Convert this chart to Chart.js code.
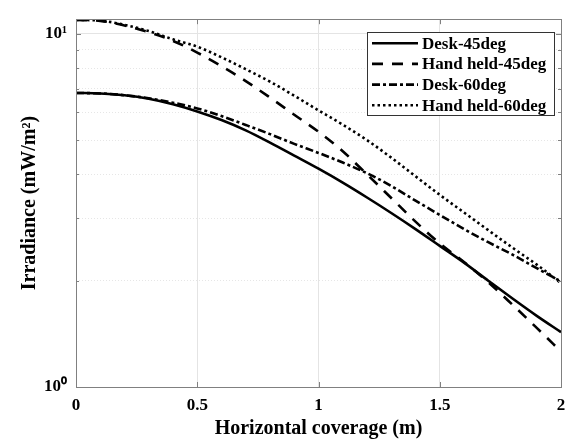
<!DOCTYPE html>
<html>
<head>
<meta charset="utf-8">
<script src="https://cdn.jsdelivr.net/npm/chart.js@4/dist/chart.umd.min.js"></script>
<style>
    html, body { margin: 0; padding: 0; background: #fff; }
    #wrap { width: 576px; height: 441px; }
</style>
</head>
<body>
<div id="wrap"><canvas id="chartOfIrradiance" width="576" height="441"></canvas></div>
<script>
// Horizontal coverage (m)
const coverage = [0, 0.1, 0.2, 0.3, 0.4, 0.5, 0.6, 0.7, 0.8, 0.9, 1.0, 1.1, 1.2, 1.3, 1.4, 1.5, 1.6, 1.7, 1.8, 1.9, 2.0]

// Irradiance (mW/m2)
const desk45 = [6.80, 6.78, 6.70, 6.55, 6.32, 6.03, 5.70, 5.33, 4.92, 4.52, 4.15, 3.79, 3.44, 3.11, 2.80, 2.51, 2.25, 2.00, 1.78, 1.59, 1.43]
const handHeld45 = [10.95, 10.88, 10.55, 10.10, 9.55, 8.85, 8.10, 7.35, 6.60, 5.90, 5.28, 4.65, 4.00, 3.43, 2.94, 2.55, 2.26, 1.98, 1.71, 1.47, 1.26]
const desk60 = [6.80, 6.78, 6.70, 6.57, 6.38, 6.15, 5.85, 5.52, 5.20, 4.88, 4.60, 4.32, 4.03, 3.71, 3.37, 3.07, 2.80, 2.57, 2.37, 2.17, 1.99]
const handHeld60 = [10.95, 10.90, 10.60, 10.18, 9.65, 9.20, 8.58, 7.94, 7.32, 6.68, 6.07, 5.53, 5.00, 4.46, 3.95, 3.50, 3.12, 2.78, 2.48, 2.22, 1.97]

const seriesNames = ['Desk-45deg', 'Hand held-45deg', 'Desk-60deg', 'Hand held-60deg']
const xTicks = [0, 0.5, 1, 1.5, 2]
const yTicks = [1, 2, 3, 4, 5, 6, 7, 8, 9, 10]
const yLabels = { 1: '10⁰', 10: '10¹' }

const serif = "'Liberation Serif', 'Times New Roman', serif"

function toPoints(values) {
    return coverage.map((x, i) => ({ x: x, y: values[i] }))
}

function line(label, values, dash) {
    return {
        label: label,
        data: toPoints(values),
        borderColor: '#000',
        backgroundColor: '#000',
        borderWidth: 2.6,
        borderDash: dash,
        pointRadius: 0,
        cubicInterpolationMode: 'monotone',
        fill: false
    }
}

// MATLAB-like box with inward ticks
const boxPlugin = {
    id: 'box',
    afterDatasetsDraw(chart) {
        const { ctx, chartArea: a, scales } = chart
        ctx.save()
        ctx.strokeStyle = '#808080'
        ctx.lineWidth = 1
        ctx.beginPath()
        for (const v of xTicks) {
            const px = Math.round(scales.x.getPixelForValue(v)) + 0.5
            ctx.moveTo(px, a.bottom); ctx.lineTo(px, a.bottom - 5)
            ctx.moveTo(px, a.top); ctx.lineTo(px, a.top + 5)
        }
        for (const v of yTicks) {
            const py = Math.round(scales.y.getPixelForValue(v)) + 0.5
            const len = yLabels[v] ? 5 : 3
            ctx.moveTo(a.left, py); ctx.lineTo(a.left + len, py)
            ctx.moveTo(a.right, py); ctx.lineTo(a.right - len, py)
        }
        ctx.stroke()
        ctx.strokeRect(Math.round(a.left) + 0.5, Math.round(a.top) + 0.5,
            Math.round(a.right - a.left), Math.round(a.bottom - a.top))
        ctx.restore()
    }
}

// legend box inside the axes, top right
const legendPlugin = {
    id: 'boxLegend',
    afterDraw(chart) {
        const { ctx, chartArea: a } = chart
        const w = 187, h = 83
        const left = a.right - 7 - w
        const top = a.top + 13
        ctx.save()
        ctx.fillStyle = '#fff'
        ctx.fillRect(left, top, w, h)
        ctx.strokeStyle = '#333'
        ctx.lineWidth = 1
        ctx.strokeRect(Math.round(left) + 0.5, Math.round(top) + 0.5, w, h)
        ctx.font = "bold 17px " + serif
        ctx.textBaseline = 'middle'
        ctx.fillStyle = '#000'
        chart.data.datasets.forEach((ds, i) => {
            const y = top + 11 + i * 20.7
            ctx.beginPath()
            ctx.setLineDash(ds.borderDash || [])
            ctx.lineWidth = ds.borderWidth
            ctx.strokeStyle = ds.borderColor
            ctx.moveTo(left + 5, y)
            ctx.lineTo(left + 51, y)
            ctx.stroke()
            ctx.setLineDash([])
            ctx.fillText(ds.label, left + 55, y + 1)
        })
        ctx.restore()
    }
}

const chartOfIrradiance = document.getElementById('chartOfIrradiance')

const config = {
    type: 'line',
    data: {
        datasets: [
            line(seriesNames[0], desk45, []),
            line(seriesNames[1], handHeld45, [11, 9]),
            line(seriesNames[2], desk60, [8, 3, 3, 3]),
            line(seriesNames[3], handHeld60, [2.5, 3])
        ]
    },
    options: {
        responsive: false,
        animation: false,
        layout: { padding: { left: 0, top: 11, right: 15, bottom: 0 } },
        plugins: {
            legend: { display: false },
            tooltip: { enabled: false }
        },
        scales: {
            x: {
                type: 'linear',
                min: 0,
                max: 2,
                afterBuildTicks: scale => { scale.ticks = xTicks.map(v => ({ value: v })) },
                afterFit: scale => { scale.height = 54 },
                ticks: {
                    color: '#000',
                    padding: 8,
                    maxRotation: 0,
                    font: { family: serif, weight: 'bold', size: 17 },
                    callback: v => String(v)
                },
                grid: { color: '#e4e4e4', lineWidth: 1, drawTicks: false },
                border: { display: false },
                title: {
                    display: true,
                    text: 'Horizontal coverage (m)',
                    color: '#000',
                    font: { family: serif, weight: 'bold', size: 20 },
                    padding: { top: 0, bottom: 0 }
                }
            },
            y: {
                type: 'logarithmic',
                min: 1,
                max: 11,
                afterBuildTicks: scale => { scale.ticks = yTicks.map(v => ({ value: v })) },
                afterFit: scale => { scale.width = 76 },
                ticks: {
                    color: '#000',
                    padding: 9,
                    autoSkip: false,
                    font: { family: serif, weight: 'bold', size: 17 },
                    callback: v => yLabels[v] || ''
                },
                grid: {
                    color: ctx => ctx.tick && yLabels[ctx.tick.value] ? '#e4e4e4' : '#e6e6e6',
                    lineWidth: 1,
                    drawTicks: false
                },
                border: {
                    display: false,
                    dash: ctx => ctx.tick && !yLabels[ctx.tick.value] ? [1, 2] : []
                },
                title: {
                    display: true,
                    text: 'Irradiance (mW/m²)',
                    color: '#000',
                    font: { family: serif, weight: 'bold', size: 20 },
                    padding: { top: 18, bottom: 0 }
                }
            }
        }
    },
    plugins: [boxPlugin, legendPlugin]
}

const irradianceChart = new Chart(chartOfIrradiance, config)
</script>
</body>
</html>
